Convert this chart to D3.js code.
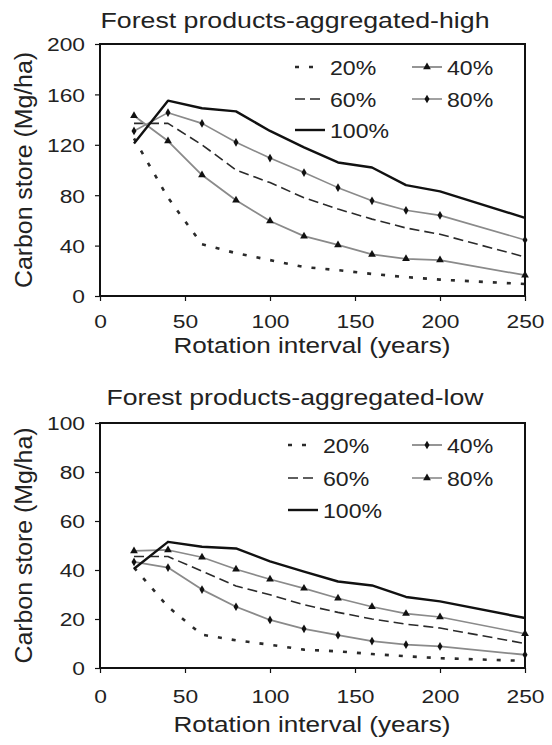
<!DOCTYPE html>
<html>
<head>
<meta charset="utf-8">
<script src="https://cdn.jsdelivr.net/npm/d3@7"></script>
<style>
  html, body { margin: 0; padding: 0; background: #fff; }
  svg { display: block; }
  text { font-family: "Liberation Sans", Arial, Helvetica, sans-serif; fill: #222; }
</style>
</head>
<body>
<svg id="chart" width="552" height="745"></svg>
<script>
// Rotation interval (years) shared by every series
const years = [20, 40, 60, 80, 100, 120, 140, 160, 180, 200, 250];
const seriesNames = ["20%", "40%", "60%", "80%", "100%"];
const xTicks = [0, 50, 100, 150, 200, 250];
const xLabel = "Rotation interval (years)";
const yLabel = "Carbon store (Mg/ha)";

// Forest products-aggregated-high: carbon store (Mg/ha)
const highTitle = "Forest products-aggregated-high";
const high20  = [125, 78, 41, 34, 28.5, 23, 20.5, 17.5, 15, 13, 9.5];
const high40  = [143, 123, 96, 76, 59.5, 47.5, 40.5, 33, 29.5, 28.5, 16.5];
const high60  = [137, 137, 120, 100, 90, 78, 69, 61, 54, 49, 31];
const high80  = [131, 145.5, 137, 122, 109.5, 98, 86, 75.5, 68, 64, 44.5];
const high100 = [121, 155, 149, 146.5, 131, 118, 106, 102, 88, 83, 62];
const highYTicks = [0, 40, 80, 120, 160, 200];

// Forest products-aggregated-low: carbon store (Mg/ha)
const lowTitle = "Forest products-aggregated-low";
const low20  = [41, 25, 13.6, 11.3, 9.5, 7.5, 6.8, 5.7, 4.8, 4, 2.9];
const low40  = [43.3, 41, 32, 25, 19.6, 16, 13.4, 11, 9.5, 8.8, 5.4];
const low60  = [45.5, 45.5, 39.5, 33.5, 29.9, 25.8, 22.7, 20, 17.9, 16.3, 10];
const low80  = [47.8, 48.2, 45.2, 40.3, 36.2, 32.5, 28.5, 25, 22.2, 20.8, 14];
const low100 = [40.5, 51.5, 49.5, 48.8, 43.5, 39.3, 35.3, 33.7, 29, 27.2, 20.4];
const lowYTicks = [0, 20, 40, 60, 80, 100];

const svg = d3.select("#chart");

// line styles per series
const lineStyle = {
  "20%":  { stroke: "#2a2a2a", width: 2.6, dash: "4,10" },
  "40%":  { stroke: "#8a8a8a", width: 1.8, dash: null },
  "60%":  { stroke: "#2a2a2a", width: 1.6, dash: "10,5" },
  "80%":  { stroke: "#8a8a8a", width: 1.6, dash: null },
  "100%": { stroke: "#111111", width: 2.4, dash: null }
};
const symbolOf = {
  triangle: d3.symbol().type(d3.symbolTriangle).size(26),
  diamond: d3.symbol().type(d3.symbolDiamond).size(22)
};
const tickStretch = 1.2;

function drawPanel(p) {
  const x = d3.scaleLinear().domain([0, 250]).range([100, 525]);
  const y = d3.scaleLinear().domain([0, p.yMax]).range([p.bottom, p.top]);
  const g = svg.append("g");

  // title
  g.append("text")
    .attr("x", 295).attr("y", p.titleY)
    .attr("text-anchor", "middle")
    .attr("font-size", 22)
    .attr("textLength", p.titleLen).attr("lengthAdjust", "spacingAndGlyphs")
    .text(p.title);

  // axes
  const ya = g.append("g").attr("transform", "translate(100,0)")
    .call(d3.axisLeft(y).tickValues(p.yTicks).tickSize(5).tickPadding(10).tickSizeOuter(0));
  const xa = g.append("g").attr("transform", `translate(0,${p.bottom})`)
    .call(d3.axisBottom(x).tickValues(xTicks).tickSize(5).tickSizeOuter(0));
  [ya, xa].forEach(a => {
    a.select(".domain").remove();
    a.attr("font-family", null).attr("font-size", null);
    a.selectAll(".tick line").attr("stroke", "#111").attr("stroke-width", 1.2);
  });
  ya.selectAll(".tick text")
    .attr("font-size", 19).attr("fill", "#222")
    .attr("x", -15 / tickStretch).attr("dy", "0.36em")
    .attr("transform", `scale(${tickStretch},1)`);
  xa.selectAll(".tick text")
    .attr("font-size", 19).attr("fill", "#222")
    .attr("y", p.tickOffset).attr("dy", 0)
    .attr("transform", `scale(${tickStretch},1)`);

  // axis titles
  g.append("text")
    .attr("x", 312).attr("y", p.xTitleY)
    .attr("text-anchor", "middle").attr("font-size", 22)
    .attr("textLength", 277).attr("lengthAdjust", "spacingAndGlyphs")
    .text(xLabel);
  g.append("text")
    .attr("transform", `translate(32,${(p.top + p.bottom) / 2}) rotate(-90)`)
    .attr("text-anchor", "middle").attr("font-size", 23)
    .attr("textLength", 236).attr("lengthAdjust", "spacingAndGlyphs")
    .text(yLabel);

  // series
  const line = d3.line().x(d => x(d[0])).y(d => y(d[1]));
  const drawOrder = ["20%", "60%", "40%", "80%", "100%"];
  drawOrder.forEach(name => {
    const s = lineStyle[name];
    const pts = years.map((yr, i) => [yr, p.values[name][i]]);
    g.append("path").datum(pts)
      .attr("d", line)
      .attr("fill", "none")
      .attr("stroke", s.stroke)
      .attr("stroke-width", s.width)
      .attr("stroke-dasharray", s.dash)
      .attr("stroke-linejoin", "round");
    const m = p.markers[name];
    if (m) {
      g.selectAll(null).data(pts).enter().append("path")
        .attr("d", symbolOf[m])
        .attr("transform", d => `translate(${x(d[0])},${y(d[1])})`)
        .attr("fill", "#111");
    }
  });

  // plot frame
  g.append("rect")
    .attr("x", 100).attr("y", p.top)
    .attr("width", 425).attr("height", p.bottom - p.top)
    .attr("fill", "none").attr("stroke", "#111").attr("stroke-width", 2);

  // legend
  const layout = {
    "20%":  { col: 0, row: 0 }, "40%": { col: 1, row: 0 },
    "60%":  { col: 0, row: 1 }, "80%": { col: 1, row: 1 },
    "100%": { col: 0, row: 2 }
  };
  seriesNames.forEach(name => {
    const L = layout[name];
    const s = lineStyle[name];
    const cy = p.legendRows[L.row];
    const x0 = L.col === 0 ? p.legendX : 412;
    const len = name === "20%" ? 22 : 30;
    g.append("line")
      .attr("x1", x0).attr("x2", x0 + len)
      .attr("y1", cy).attr("y2", cy)
      .attr("stroke", s.stroke).attr("stroke-width", s.width)
      .attr("stroke-dasharray", s.dash);
    const m = p.markers[name];
    if (m) {
      g.append("path").attr("d", symbolOf[m])
        .attr("transform", `translate(${x0 + 15},${cy})`).attr("fill", "#111");
    }
    const tx = x0 + 35;
    g.append("text")
      .attr("transform", `translate(${tx},${cy}) scale(1.1,1)`)
      .attr("dy", "0.36em").attr("font-size", 21)
      .text(name);
  });
}

drawPanel({
  title: highTitle, titleY: 28, titleLen: 389,
  yMax: 200, yTicks: highYTicks, top: 44, bottom: 296,
  tickOffset: 32, xTitleY: 353,
  values: { "20%": high20, "40%": high40, "60%": high60, "80%": high80, "100%": high100 },
  markers: { "40%": "triangle", "80%": "diamond" },
  legendX: 295, legendRows: [67, 99, 130]
});

drawPanel({
  title: lowTitle, titleY: 405, titleLen: 377,
  yMax: 100, yTicks: lowYTicks, top: 423, bottom: 668,
  tickOffset: 35, xTitleY: 732,
  values: { "20%": low20, "40%": low40, "60%": low60, "80%": low80, "100%": low100 },
  markers: { "40%": "diamond", "80%": "triangle" },
  legendX: 288, legendRows: [445, 478, 510]
});
</script>
</body>
</html>
